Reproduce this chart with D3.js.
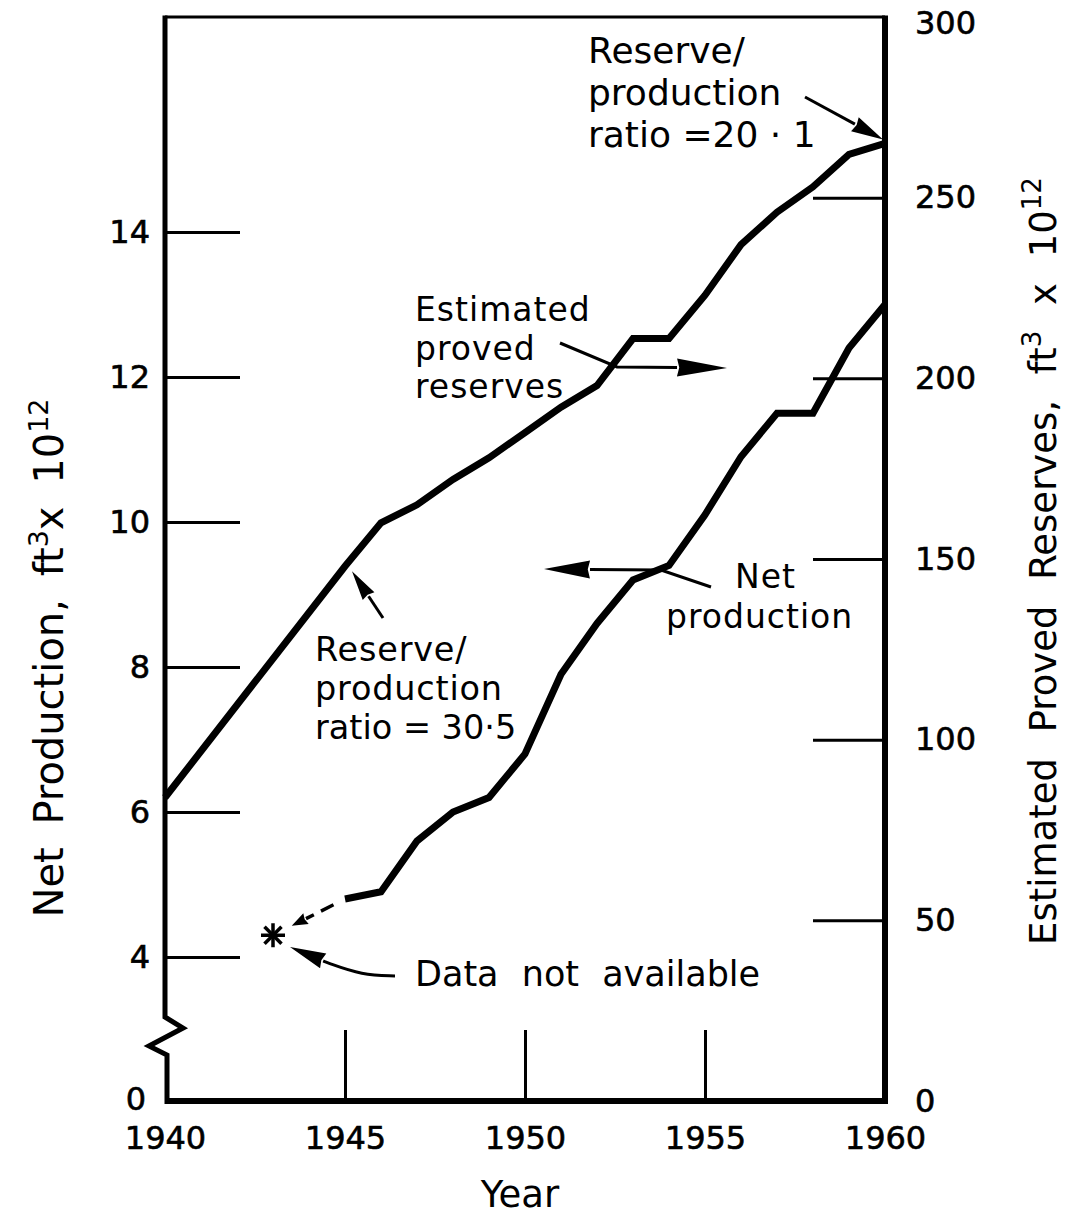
<!DOCTYPE html>
<html>
<head>
<meta charset="utf-8">
<script src="https://cdn.jsdelivr.net/npm/d3@7"></script>
<style>
  body { margin: 0; background: #fff; }
  text { font-family: "DejaVu Sans", sans-serif; fill: #000; }
</style>
</head>
<body>
<div id="chart"></div>
<script>
// --- data ---
const reserveYears = [1940, 1945, 1946, 1947, 1948, 1949, 1950, 1951, 1952, 1953, 1954, 1955, 1956, 1957, 1958, 1959, 1960];
const reserves = [84, 148, 160, 165, 172, 178, 185, 192, 198, 211, 211, 223, 237, 246, 253, 262, 265]; // ft3 x 10^12
const prodYears = [1945, 1946, 1947, 1948, 1949, 1950, 1951, 1952, 1953, 1954, 1955, 1956, 1957, 1958, 1959, 1960];
const production = [4.8, 4.9, 5.6, 6.0, 6.2, 6.8, 7.9, 8.6, 9.2, 9.4, 10.1, 10.9, 11.5, 11.5, 12.4, 13.0]; // ft3 x 10^12
const missingYear = 1943;
const missingValue = 4.3;

const yearTicks = [1940, 1945, 1950, 1955, 1960];
const leftTicks = [4, 6, 8, 10, 12, 14];
const rightTicks = [0, 50, 100, 150, 200, 250, 300];

const width = 1066, height = 1218;

const svg = d3.select("#chart").append("svg")
    .attr("width", width)
    .attr("height", height);

// scales
const x = d3.scaleLinear().domain([1940, 1960]).range([165, 885]);
const yR = d3.scaleLinear().domain([0, 300]).range([1101, 17]);
const yL = d3.scaleLinear().domain([4, 14]).range([957, 232]); // left axis is broken below 4

// --- axes (ticks point inward) ---
const gx = svg.append("g")
    .attr("transform", `translate(0,${yR(0)})`)
    .call(d3.axisBottom(x).tickValues(yearTicks).tickFormat(d3.format("d"))
        .tickSizeInner(-71).tickSizeOuter(0).tickPadding(25));
gx.selectAll(".tick line").filter(d => d === 1940 || d === 1960).remove();

const gl = svg.append("g")
    .attr("transform", `translate(${x(1940)},0)`)
    .call(d3.axisLeft(yL).tickValues(leftTicks)
        .tickSizeInner(-75).tickSizeOuter(0).tickPadding(15));

const gr = svg.append("g")
    .attr("transform", `translate(${x(1960)},0)`)
    .call(d3.axisRight(yR).tickValues(rightTicks)
        .tickSizeInner(-72).tickSizeOuter(0).tickPadding(30));
gr.selectAll(".tick line").filter(d => d === 0 || d === 300).remove();
gr.selectAll(".tick text").filter(d => d === 300).attr("y", 6);

[gx, gl, gr].forEach(g => {
    g.select(".domain").remove();
    g.selectAll(".tick line").attr("stroke", "#000").attr("stroke-width", 3);
    g.selectAll(".tick text")
        .style("font-size", "32px")
        .attr("fill", "#000")
        .attr("stroke", "#000")
        .attr("stroke-width", 0.6);
});

// zero label under the axis break
svg.append("text")
    .attr("x", x(1940) - 19)
    .attr("y", yR(0) + 9)
    .attr("text-anchor", "end")
    .attr("stroke", "#000")
    .attr("stroke-width", 0.6)
    .style("font-size", "32px")
    .text("0");

// --- frame ---
svg.append("line")
    .attr("x1", x(1940)).attr("x2", x(1960))
    .attr("y1", yR(300)).attr("y2", yR(300))
    .attr("stroke", "#000").attr("stroke-width", 3);
svg.append("line")
    .attr("x1", x(1960)).attr("x2", x(1960))
    .attr("y1", yR(300) - 1.5).attr("y2", yR(0) + 3)
    .attr("stroke", "#000").attr("stroke-width", 6);
svg.append("line")
    .attr("x1", x(1940)).attr("x2", x(1960) + 3)
    .attr("y1", yR(0)).attr("y2", yR(0))
    .attr("stroke", "#000").attr("stroke-width", 6);

// left axis with the zig-zag break
const lx = x(1940);
svg.append("path")
    .attr("d", `M${lx},${yR(300) - 1.5} L${lx},1017 L${lx + 18},1028 L${lx - 16},1046 L${lx + 2},1055 L${lx + 2},${yR(0) + 3}`)
    .attr("fill", "none")
    .attr("stroke", "#000")
    .attr("stroke-width", 5)
    .attr("stroke-linejoin", "miter");

// --- data lines ---
const lineR = d3.line().x(d => x(d[0])).y(d => yR(d[1]));
const lineL = d3.line().x(d => x(d[0])).y(d => yL(d[1]));

svg.append("path")
    .datum(d3.zip(reserveYears, reserves))
    .attr("d", lineR)
    .attr("fill", "none")
    .attr("stroke", "#000")
    .attr("stroke-width", 7);

svg.append("path")
    .datum(d3.zip(prodYears, production))
    .attr("d", lineL)
    .attr("fill", "none")
    .attr("stroke", "#000")
    .attr("stroke-width", 7);

// missing-data asterisk
const sx = x(missingYear), sy = yL(missingValue);
const star = svg.append("g").attr("transform", `translate(${sx},${sy})`);
[0, 45, 90, 135].forEach(a => {
    star.append("line")
        .attr("x1", -12).attr("x2", 12)
        .attr("transform", `rotate(${a})`)
        .attr("stroke", "#000").attr("stroke-width", 3.5);
});

// --- arrows ---
function arrow(pts, headLen, headHalf, opts = {}) {
    const n = pts.length;
    const [ax, ay] = pts[n - 2], [bx, by] = pts[n - 1];
    const ang = Math.atan2(by - ay, bx - ax);
    const c = Math.cos(ang), s = Math.sin(ang);
    const base = [bx - headLen * c, by - headLen * s];
    const shaft = pts.slice(0, n - 1).concat([base]);
    const line = d3.line();
    if (opts.curve) line.curve(d3.curveBasis);
    svg.append("path")
        .attr("d", line(shaft))
        .attr("fill", "none")
        .attr("stroke", "#000")
        .attr("stroke-width", opts.width || 3)
        .attr("stroke-dasharray", opts.dash || null);
    svg.append("path")
        .attr("d", `M${bx},${by} L${base[0] - headHalf * s},${base[1] + headHalf * c} L${base[0] + headHalf * 0.25 * c},${base[1] + headHalf * 0.25 * s} L${base[0] + headHalf * s},${base[1] - headHalf * c} Z`)
        .attr("fill", "#000");
}

// dashed connector from 1945 production to the asterisk
const p0 = [x(1945), yL(production[0])];
const v = [sx - p0[0], sy - p0[1]];
arrow([[p0[0] + 0.16 * v[0], p0[1] + 0.16 * v[1]], [p0[0] + 0.74 * v[0], p0[1] + 0.74 * v[1]]],
    16, 6, { width: 3.5, dash: "14,8" });

// ratio at 1960
arrow([[805, 97], [x(1960) - 2, yR(reserves[reserves.length - 1]) - 4]], 32, 8);
// estimated proved reserves -> right axis
arrow([[560, 343], [617, 367], [727, 368]], 50, 9);
// ratio at 1945
arrow([[383, 618], [x(1945) + 7, yR(148) + 5]], 30, 7);
// net production -> left axis
arrow([[711, 587], [661, 570], [544, 569]], 46, 9);
// data not available
arrow([[395, 976], [362, 975], [328, 963], [290, 947]], 36, 8, { curve: true });

// --- annotation text ---
function label(x0, y0, lines, dyLine, size, spacing) {
    const t = svg.append("text")
        .attr("x", x0).attr("y", y0)
        .style("font-size", size + "px")
        .style("letter-spacing", (spacing || 0) + "px");
    lines.forEach((s, i) => {
        t.append("tspan").attr("x", x0).attr("dy", i === 0 ? 0 : dyLine).text(s);
    });
}
label(588, 63, ["Reserve/", "production", "ratio =20 · 1"], 42, 36, 0);
label(415, 321, ["Estimated", "proved", "reserves"], 38.5, 33, 1);
label(315, 661, ["Reserve/", "production"], 39, 33.5, 0.8);
label(315, 739, ["ratio = 30·5"], 0, 33.5, 0);
label(735, 588, ["Net"], 0, 33, 1);
label(666, 628, ["production"], 0, 33, 1);
svg.append("text")
    .attr("x", 415).attr("y", 986)
    .style("font-size", "35px")
    .style("word-spacing", "12px")
    .text("Data not available");

// --- axis titles ---
svg.append("text")
    .attr("x", 520).attr("y", 1207)
    .attr("text-anchor", "middle")
    .style("font-size", "37px")
    .text("Year");

const tl = svg.append("text")
    .attr("transform", "translate(63,658) rotate(-90)")
    .attr("text-anchor", "middle")
    .style("font-size", "40px")
    .style("word-spacing", "10px");
tl.append("tspan").text("Net Production,  ft");
tl.append("tspan").attr("baseline-shift", "super").style("font-size", "27px").text("3");
tl.append("tspan").text("x 10");
tl.append("tspan").attr("baseline-shift", "super").style("font-size", "27px").text("12");

const tr = svg.append("text")
    .attr("transform", "translate(1056,945) rotate(-90)")
    .attr("text-anchor", "start")
    .style("font-size", "37px")
    .style("word-spacing", "14px");
tr.append("tspan").text("Estimated Proved Reserves, ft");
tr.append("tspan").attr("baseline-shift", "super").style("font-size", "26px").text("3");
tr.append("tspan").text(" x 10");
tr.append("tspan").attr("baseline-shift", "super").style("font-size", "26px").text("12");
</script>
</body>
</html>
